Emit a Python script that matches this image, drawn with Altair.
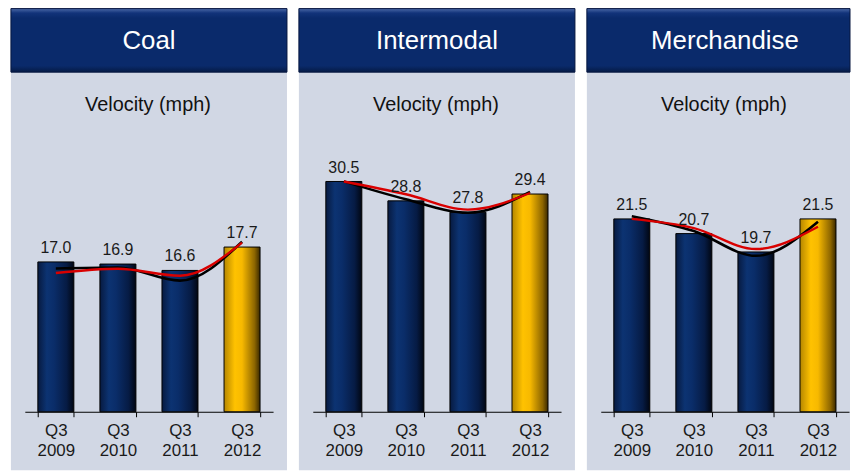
import altair as alt
import pandas as pd

FONT = "Liberation Sans"

quarters = ["Q3 2009", "Q3 2010", "Q3 2011", "Q3 2012"]

# Bar values (velocity, mph)
coal_velocity = [17.0, 16.9, 16.6, 17.7]
intermodal_velocity = [30.5, 28.8, 27.8, 29.4]
merch_velocity = [21.5, 20.7, 19.7, 21.5]

# Smoothed overlay curves (black and red), same units as the bars
coal_curve_black = [16.69, 16.74, 16.12, 17.95]
coal_curve_red = [16.48, 16.68, 16.35, 17.91]
intermodal_curve_black = [30.51, 28.94, 27.75, 29.58]
intermodal_curve_red = [30.50, 29.38, 28.03, 29.49]
merch_curve_black = [21.65, 20.84, 19.49, 21.34]
merch_curve_red = [21.50, 21.00, 19.86, 21.07]

NAVY_BAR = alt.Gradient(
    gradient="linear", x1=0, x2=1, y1=0, y2=0,
    stops=[
        alt.GradientStop(offset=0.0, color="#071a40"),
        alt.GradientStop(offset=0.25, color="#0c3372"),
        alt.GradientStop(offset=0.45, color="#0a2d69"),
        alt.GradientStop(offset=0.8, color="#061b44"),
        alt.GradientStop(offset=1.0, color="#010612"),
    ],
)
GOLD_BAR = alt.Gradient(
    gradient="linear", x1=0, x2=1, y1=0, y2=0,
    stops=[
        alt.GradientStop(offset=0.0, color="#b58600"),
        alt.GradientStop(offset=0.3, color="#ffc200"),
        alt.GradientStop(offset=0.5, color="#f7b900"),
        alt.GradientStop(offset=0.85, color="#8c6500"),
        alt.GradientStop(offset=1.0, color="#3a2900"),
    ],
)
HEADER_FILL = alt.Gradient(
    gradient="linear", x1=0, x2=0, y1=0, y2=1,
    stops=[
        alt.GradientStop(offset=0.0, color="#4a68a6"),
        alt.GradientStop(offset=0.07, color="#12337a"),
        alt.GradientStop(offset=0.15, color="#0a2a6b"),
        alt.GradientStop(offset=0.9, color="#0a2a6b"),
        alt.GradientStop(offset=1.0, color="#051a45"),
    ],
)


def panel(title, values, curve_black, curve_red, domain, width):
    df = pd.DataFrame({
        "quarter": quarters,
        "velocity": values,
        "black": curve_black,
        "red": curve_red,
        "current": [q.endswith("2012") for q in quarters],
    })
    base = alt.Chart(df)

    x = alt.X(
        "quarter:N", sort=quarters, title=None,
        scale=alt.Scale(range=[14, 264], paddingInner=0.42, paddingOuter=0.21),
        axis=alt.Axis(
            orient="bottom", offset=-59, labelAngle=0,
            labelExpr="split(datum.label, ' ')",
            labelFont=FONT, labelFontSize=17, labelColor="#1a1a1a",
            labelPadding=6, labelLineHeight=20,
            domainColor="#000000", domainWidth=1,
            tickColor="#000000", tickSize=5, tickBand="extent",
            grid=False,
        ),
    )
    yscale = alt.Scale(domain=domain, range=[406, 64], zero=False, nice=False)

    def y(field):
        return alt.Y(f"{field}:Q", scale=yscale, axis=None, title=None)

    navy = base.transform_filter("!datum.current").mark_bar(
        fill=NAVY_BAR, stroke="#000000", strokeWidth=1
    ).encode(x=x, y=y("velocity"), y2=alt.datum(domain[0]))
    gold = base.transform_filter("datum.current").mark_bar(
        fill=GOLD_BAR, stroke="#000000", strokeWidth=1
    ).encode(x=x, y=y("velocity"), y2=alt.datum(domain[0]))

    black_line = base.mark_line(
        color="#000000", strokeWidth=2.6, interpolate="monotone"
    ).encode(x=x, y=y("black"))
    red_line = base.mark_line(
        color="#d90000", strokeWidth=2.4, interpolate="monotone"
    ).encode(x=x, y=y("red"))

    value_labels = base.mark_text(
        font=FONT, fontSize=16, color="#1a1a1a", baseline="middle", dy=-14
    ).encode(x=x, y=y("velocity"), text=alt.Text("velocity:Q", format=".1f"))

    head = alt.Chart(alt.Data(values=[{"title": title}]))
    header_box = head.mark_rect(
        fill=HEADER_FILL, stroke="#061640", strokeWidth=1
    ).encode(x=alt.value(0), x2=alt.value(width), y=alt.value(0), y2=alt.value(64))
    header_text = head.mark_text(
        font=FONT, fontSize=26, color="#ffffff", baseline="middle", align="center"
    ).encode(x=alt.value(139), y=alt.value(33), text="title:N")
    subtitle = head.mark_text(
        font=FONT, fontSize=20, color="#111111", baseline="middle", align="center"
    ).encode(x=alt.value(138), y=alt.value(97), text=alt.value("Velocity (mph)"))

    return alt.layer(
        navy, gold, black_line, red_line, value_labels,
        header_box, header_text, subtitle,
    ).properties(width=width, height=465)


coal = panel("Coal", coal_velocity, coal_curve_black, coal_curve_red,
             [9.95, 25.93], 278)
intermodal = panel("Intermodal", intermodal_velocity, intermodal_curve_black,
                   intermodal_curve_red, [10.3, 40.09], 278)
merchandise = panel("Merchandise", merch_velocity, merch_curve_black,
                    merch_curve_red, [11.0, 29.49], 265)

chart = alt.hconcat(coal, intermodal, merchandise, spacing=10).properties(
    padding={"left": 10, "top": 6, "right": 0, "bottom": 0},
    background="#ffffff",
).configure_view(fill="#d1d7e4", stroke=None)

chart.save("out.html", embed_options={"renderer": "svg", "actions": False})
